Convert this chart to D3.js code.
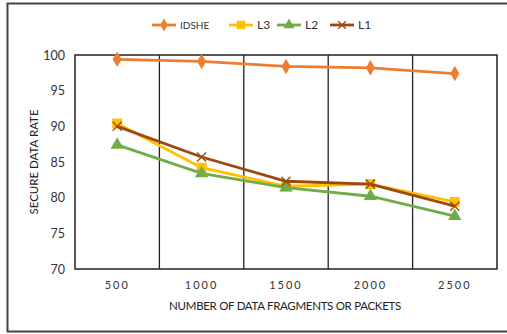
<!DOCTYPE html>
<html>
<head>
<meta charset="utf-8">
<script src="https://cdn.jsdelivr.net/npm/d3@7"></script>
<style>
  body { margin: 0; background: #fff; }
  svg { display: block; font-family: Lato, "Open Sans", sans-serif; }
</style>
</head>
<body>
<svg id="chart" width="507" height="334"></svg>
<script>
const categories = ['500', '1000', '1500', '2000', '2500'];
const yTicks = [70, 75, 80, 85, 90, 95, 100];
const seriesNames = ['IDSHE', 'L3', 'L2', 'L1'];
const idsheValues = [99.4, 99.1, 98.4, 98.2, 97.4];
const l3Values = [90.4, 84.2, 81.6, 81.9, 79.4];
const l2Values = [87.4, 83.4, 81.4, 80.2, 77.4];
const l1Values = [90.0, 85.7, 82.3, 81.9, 78.8];
const colors = ['#ED7D31', '#FFC000', '#70AD47', '#9E480E'];

const series = [idsheValues, l3Values, l2Values, l1Values].map((values, i) => ({
    name: seriesNames[i],
    color: colors[i],
    values,
}));

const margin = { top: 55, right: 10, bottom: 65, left: 75 };
const width = 507;
const height = 334;
const svg = d3.select('#chart');

// outer frame
svg.append('rect')
    .attr('x', 7.5).attr('y', 3.5)
    .attr('width', 505).attr('height', 328)
    .attr('fill', 'none')
    .attr('stroke', '#444')
    .attr('stroke-width', 2);

const x = d3.scaleBand()
    .domain(categories)
    .range([margin.left, width - margin.right]);

const y = d3.scaleLinear()
    .domain([70, 100])
    .range([height - margin.bottom, margin.top]);

// plot box + category separators
svg.append('rect')
    .attr('x', x.range()[0]).attr('y', y(100))
    .attr('width', x.range()[1] - x.range()[0])
    .attr('height', y(70) - y(100))
    .attr('fill', 'none')
    .attr('stroke', '#222')
    .attr('stroke-width', 1.5);

svg.append('g')
    .selectAll('line')
    .data(categories.slice(1))
    .join('line')
    .attr('x1', d => x(d)).attr('x2', d => x(d))
    .attr('y1', y(100)).attr('y2', y(70))
    .attr('stroke', '#222')
    .attr('stroke-width', 1.3);

// axes
const yAxis = svg.append('g')
    .attr('transform', `translate(${margin.left}, 0)`)
    .call(d3.axisLeft(y).tickValues(yTicks).tickSize(0).tickPadding(10));
yAxis.select('.domain').remove();
yAxis.selectAll('text').attr('font-size', 12.5).attr('fill', '#333').attr('font-family', 'Lato, sans-serif');

const xAxis = svg.append('g')
    .attr('transform', `translate(0, ${y(70)})`)
    .call(d3.axisBottom(x).tickSize(0).tickPadding(12));
xAxis.select('.domain').remove();
xAxis.selectAll('text')
    .attr('font-size', 11)
    .attr('fill', '#333')
    .attr('letter-spacing', '2px')
    .attr('font-family', 'Lato, sans-serif');

// axis titles
svg.append('text')
    .attr('transform', `translate(38, ${(y(70) + y(100)) / 2}) rotate(-90)`)
    .attr('text-anchor', 'middle')
    .attr('font-size', 11.5)
    .attr('fill', '#222')
    .text('SECURE DATA RATE');

svg.append('text')
    .attr('x', 285).attr('y', 310)
    .attr('text-anchor', 'middle')
    .attr('font-size', 11.5)
    .attr('fill', '#222')
    .attr('letter-spacing', '-0.3px')
    .text('NUMBER OF DATA FRAGMENTS OR PACKETS');

// lines
const line = d3.line()
    .x((d, i) => x(categories[i]) + x.bandwidth() / 2)
    .y(d => y(d));

const drawMarker = (g, name, color, size) => {
    if (name === 'IDSHE') {
        g.append('path').attr('d', d3.symbol(d3.symbolDiamond, size * 10)())
            .attr('fill', color);
    } else if (name === 'L3') {
        g.append('path').attr('d', d3.symbol(d3.symbolSquare, size * 14)())
            .attr('fill', color);
    } else if (name === 'L2') {
        g.append('path').attr('d', d3.symbol(d3.symbolTriangle, size * 11)())
            .attr('fill', color);
    } else {
        g.append('path').attr('d', d3.symbol(d3.symbolX, size * 8)())
            .attr('fill', 'none').attr('stroke', color).attr('stroke-width', 1.3);
    }
};

series.forEach(s => {
    svg.append('path')
        .datum(s.values)
        .attr('d', line)
        .attr('fill', 'none')
        .attr('stroke', s.color)
        .attr('stroke-width', 2.8);

    s.values.forEach((v, i) => {
        const g = svg.append('g')
            .attr('transform', `translate(${x(categories[i]) + x.bandwidth() / 2}, ${y(v)})`);
        drawMarker(g, s.name, s.color, 7);
    });
});

// legend
const legendX = [152, 229, 277, 330];
const legend = svg.append('g').attr('transform', 'translate(0, 25)');
series.forEach((s, i) => {
    const g = legend.append('g').attr('transform', `translate(${legendX[i]}, 0)`);
    g.append('line')
        .attr('x1', 0).attr('x2', 24)
        .attr('stroke', s.color)
        .attr('stroke-width', 2.8);
    const m = g.append('g').attr('transform', 'translate(12, 0)');
    drawMarker(m, s.name, s.color, 5);
    g.append('text')
        .attr('x', 28).attr('y', 4)
        .attr('font-size', s.name === 'IDSHE' ? 10 : 12)
        .attr('fill', '#333')
        .text(s.name);
});
</script>
</body>
</html>
